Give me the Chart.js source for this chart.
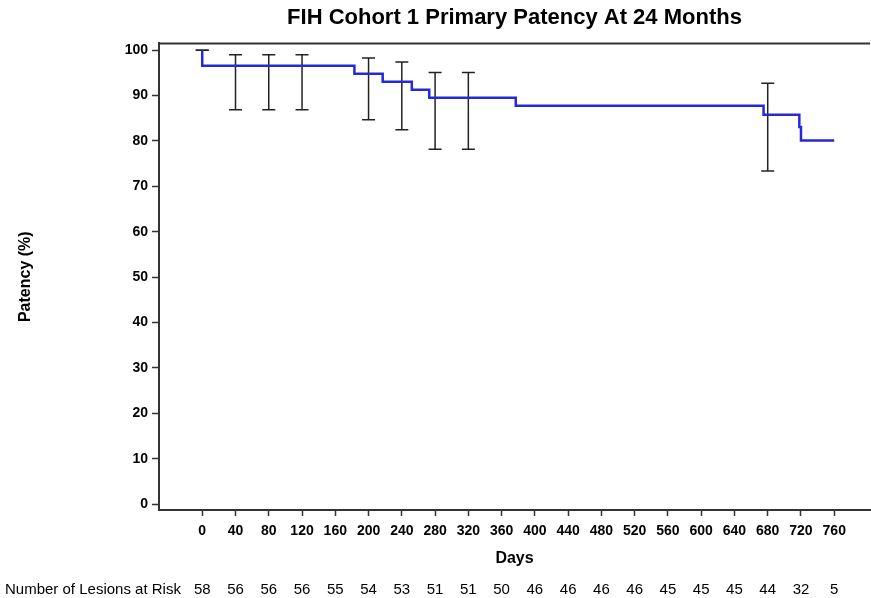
<!DOCTYPE html>
<html>
<head>
<meta charset="utf-8">
<script src="https://cdn.jsdelivr.net/npm/chart.js@4/dist/chart.umd.min.js"></script>
<style>
  html, body { margin: 0; padding: 0; background: #fff; }
  #wrap { width: 871px; height: 598px; position: relative; }
</style>
</head>
<body>
<div id="wrap"><canvas id="chart"></canvas></div>
<script>
// Kaplan-Meier curve (day of drop, patency after drop)
const kmDays = [0, 0, 183, 217, 252, 273, 377, 675, 718, 720, 760];
const kmPatency = [100, 96.55, 94.8, 93.04, 91.29, 89.53, 87.74, 85.79, 83.1, 80.1, 80.1];

// confidence interval bars
const ciDays = [0, 40, 80, 120, 200, 240, 280, 320, 680];
const ciLow = [100, 86.9, 86.9, 86.9, 84.7, 82.5, 78.2, 78.2, 73.4];
const ciHigh = [100, 99.0, 99.0, 99.0, 98.3, 97.4, 95.1, 95.1, 92.7];

const xTicks = [0, 40, 80, 120, 160, 200, 240, 280, 320, 360, 400, 440, 480, 520, 560, 600, 640, 680, 720, 760];
const yTicks = [0, 10, 20, 30, 40, 50, 60, 70, 80, 90, 100];
const atRisk = [58, 56, 56, 56, 55, 54, 53, 51, 51, 50, 46, 46, 46, 46, 45, 45, 45, 44, 32, 5];

const FONT = "'Liberation Sans', Arial, sans-serif";

const kmData = kmDays.map((d, i) => ({ x: d, y: kmPatency[i] }));
const barData = [];
ciDays.forEach((d, i) => {
  barData.push({ x: d, y: ciLow[i] }, { x: d, y: ciHigh[i] }, { x: d, y: null });
});
const capData = [];
ciDays.forEach((d, i) => {
  capData.push({ x: d, y: ciLow[i] }, { x: d, y: ciHigh[i] });
});

// number at risk row + frame line on top
const riskRow = {
  id: 'riskRow',
  afterDraw(chart) {
    const ctx = chart.ctx;
    const xs = chart.scales.x;
    const area = chart.chartArea;
    ctx.save();
    ctx.strokeStyle = '#333';
    ctx.lineWidth = 2;
    ctx.beginPath();
    ctx.moveTo(area.left, area.top);
    ctx.lineTo(area.right, area.top);
    ctx.stroke();

    ctx.fillStyle = '#000';
    ctx.font = '15px ' + FONT;
    ctx.textBaseline = 'middle';
    ctx.textAlign = 'left';
    ctx.fillText('Number of Lesions at Risk', 5, 590);
    ctx.textAlign = 'center';
    xTicks.forEach((t, i) => {
      ctx.fillText(String(atRisk[i]), xs.getPixelForValue(t), 590);
    });
    ctx.restore();
  }
};

new Chart(document.getElementById('chart'), {
  type: 'line',
  data: {
    datasets: [
      {
        label: 'Primary patency',
        data: kmData,
        stepped: true,
        borderColor: 'rgb(40,40,215)',
        borderWidth: 2.5,
        pointRadius: 0,
        fill: false,
        order: 0
      },
      {
        label: 'CI',
        data: barData,
        borderColor: '#222',
        borderWidth: 1.5,
        pointRadius: 0,
        spanGaps: false,
        fill: false,
        order: 1
      },
      {
        label: 'CI caps',
        data: capData,
        showLine: false,
        pointStyle: 'line',
        pointRadius: 6.5,
        pointBorderColor: '#222',
        pointBorderWidth: 1.5,
        order: 1
      }
    ]
  },
  options: {
    responsive: true,
    maintainAspectRatio: false,
    animation: false,
    layout: { autoPadding: false, padding: { left: 16, right: 1, top: 0, bottom: 30 } },
    plugins: {
      legend: { display: false },
      tooltip: { enabled: false },
      title: {
        display: true,
        fullSize: false,
        text: 'FIH Cohort 1 Primary Patency At 24 Months',
        color: '#000',
        font: { family: FONT, size: 22, weight: 'bold', lineHeight: 1.2 },
        padding: { top: 5, bottom: 12 }
      }
    },
    scales: {
      x: {
        type: 'linear',
        min: -52,
        max: 803,
        afterBuildTicks: s => { s.ticks = xTicks.map(v => ({ value: v })); },
        afterFit: s => { s.height = 58; s.paddingLeft = 0; s.paddingRight = 0; },
        grid: { drawOnChartArea: false, drawTicks: true, tickLength: 6, tickColor: '#333', tickWidth: 1.5 },
        border: { display: true, color: '#333', width: 2 },
        ticks: {
          color: '#000',
          padding: 7,
          maxRotation: 0,
          autoSkip: false,
          font: { family: FONT, size: 14, weight: 'bold' }
        },
        title: {
          display: true,
          text: 'Days',
          color: '#000',
          font: { family: FONT, size: 16, weight: 'bold' },
          padding: 0
        }
      },
      y: {
        min: -1.3,
        max: 101.5,
        afterBuildTicks: s => { s.ticks = yTicks.map(v => ({ value: v })); },
        afterFit: s => { s.width = 143; s.paddingTop = 0; s.paddingBottom = 0; },
        grid: { drawOnChartArea: false, drawTicks: true, tickLength: 7, tickColor: '#333', tickWidth: 1.5 },
        border: { display: true, color: '#333', width: 2 },
        ticks: {
          color: '#000',
          padding: 4,
          autoSkip: false,
          font: { family: FONT, size: 14, weight: 'bold' }
        },
        title: {
          display: true,
          text: 'Patency (%)',
          color: '#000',
          font: { family: FONT, size: 16, weight: 'bold' },
          padding: 0
        }
      }
    }
  },
  plugins: [riskRow]
});
</script>
</body>
</html>
